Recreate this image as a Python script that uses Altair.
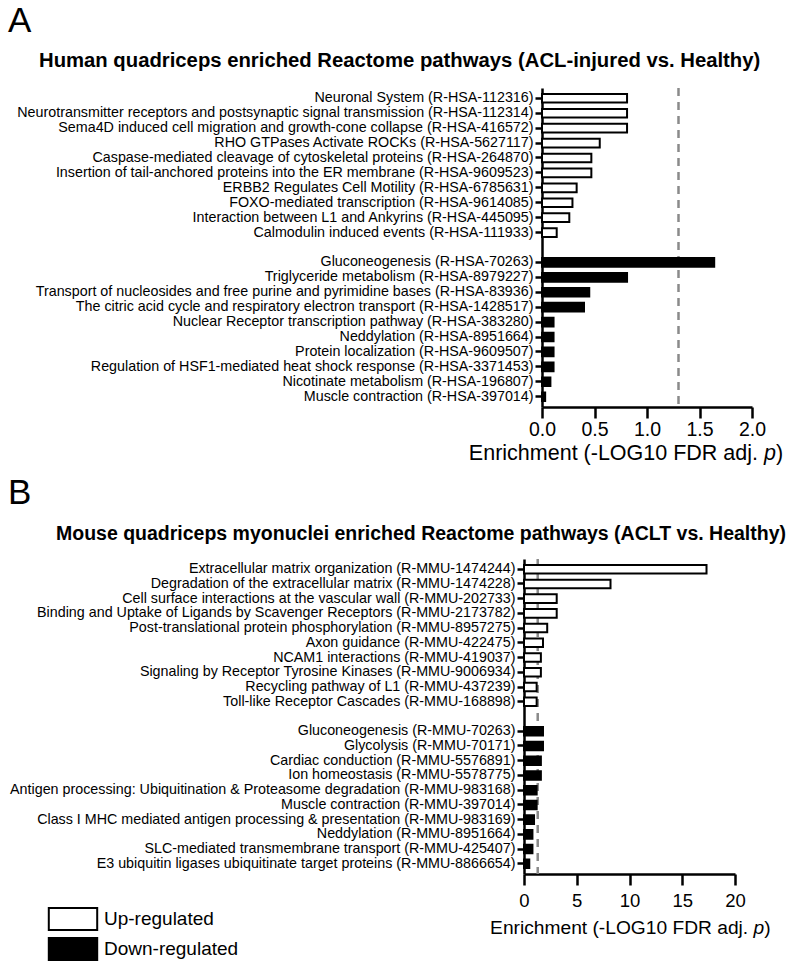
import altair as alt
import pandas as pd

FONT = "Liberation Sans, Arial, Helvetica, sans-serif"

# ---------------- Panel A data (human) ----------------
hs_up_labels = [
    "Neuronal System (R-HSA-112316)",
    "Neurotransmitter receptors and postsynaptic signal transmission (R-HSA-112314)",
    "Sema4D induced cell migration and growth-cone collapse (R-HSA-416572)",
    "RHO GTPases Activate ROCKs (R-HSA-5627117)",
    "Caspase-mediated cleavage of cytoskeletal proteins (R-HSA-264870)",
    "Insertion of tail-anchored proteins into the ER membrane (R-HSA-9609523)",
    "ERBB2 Regulates Cell Motility (R-HSA-6785631)",
    "FOXO-mediated transcription (R-HSA-9614085)",
    "Interaction between L1 and Ankyrins (R-HSA-445095)",
    "Calmodulin induced events (R-HSA-111933)",
]
hs_up_values = [0.81, 0.81, 0.81, 0.55, 0.47, 0.47, 0.33, 0.29, 0.26, 0.14]

hs_down_labels = [
    "Gluconeogenesis (R-HSA-70263)",
    "Triglyceride metabolism (R-HSA-8979227)",
    "Transport of nucleosides and free purine and pyrimidine bases (R-HSA-83936)",
    "The citric acid cycle and respiratory electron transport (R-HSA-1428517)",
    "Nuclear Receptor transcription pathway (R-HSA-383280)",
    "Neddylation (R-HSA-8951664)",
    "Protein localization (R-HSA-9609507)",
    "Regulation of HSF1-mediated heat shock response (R-HSA-3371453)",
    "Nicotinate metabolism (R-HSA-196807)",
    "Muscle contraction (R-HSA-397014)",
]
hs_down_values = [1.64, 0.81, 0.45, 0.40, 0.11, 0.11, 0.11, 0.11, 0.08, 0.03]

# ---------------- Panel B data (mouse) ----------------
mm_up_labels = [
    "Extracellular matrix organization (R-MMU-1474244)",
    "Degradation of the extracellular matrix (R-MMU-1474228)",
    "Cell surface interactions at the vascular wall (R-MMU-202733)",
    "Binding and Uptake of Ligands by Scavenger Receptors (R-MMU-2173782)",
    "Post-translational protein phosphorylation (R-MMU-8957275)",
    "Axon guidance (R-MMU-422475)",
    "NCAM1 interactions (R-MMU-419037)",
    "Signaling by Receptor Tyrosine Kinases (R-MMU-9006934)",
    "Recycling pathway of L1 (R-MMU-437239)",
    "Toll-like Receptor Cascades (R-MMU-168898)",
]
mm_up_values = [17.3, 8.2, 3.1, 3.1, 2.2, 1.8, 1.6, 1.6, 1.2, 1.2]

mm_down_labels = [
    "Gluconeogenesis (R-MMU-70263)",
    "Glycolysis (R-MMU-70171)",
    "Cardiac conduction (R-MMU-5576891)",
    "Ion homeostasis (R-MMU-5578775)",
    "Antigen processing: Ubiquitination & Proteasome degradation (R-MMU-983168)",
    "Muscle contraction (R-MMU-397014)",
    "Class I MHC mediated antigen processing & presentation (R-MMU-983169)",
    "Neddylation (R-MMU-8951664)",
    "SLC-mediated transmembrane transport (R-MMU-425407)",
    "E3 ubiquitin ligases ubiquitinate target proteins (R-MMU-8866654)",
]
mm_down_values = [1.8, 1.8, 1.6, 1.6, 1.2, 1.2, 0.95, 0.8, 0.8, 0.5]

directions = ["Up-regulated", "Down-regulated"]
threshold = [1.3]  # -log10(0.05)

title_a = "Human quadriceps enriched Reactome pathways (ACL-injured vs. Healthy)"
title_b = "Mouse quadriceps myonuclei enriched Reactome pathways (ACLT vs. Healthy)"
x_title_parts = ["Enrichment (-LOG10 FDR adj.", "p", ")"]

GAP = "__gap__"


def make_df(up_labels, up_vals, down_labels, down_vals):
    rows = [{"pathway": l, "value": v, "direction": directions[0]} for l, v in zip(up_labels, up_vals)]
    rows += [{"pathway": l, "value": v, "direction": directions[1]} for l, v in zip(down_labels, down_vals)]
    return pd.DataFrame(rows)


def text_layer(txt, x, y, size, align="left", weight="normal", style="normal"):
    return alt.Chart(pd.DataFrame({"t": [txt]})).mark_text(
        align=align, baseline="middle", fontSize=size, fontWeight=weight, fontStyle=style,
        font=FONT, color="black",
    ).encode(x=alt.value(x), y=alt.value(y), text="t:N")


def panel(df, order, xmax, xticks, fmt, width, height, xrange, yoffset, tick_fs, label_pad,
          letter, letter_xy, title, title_fs, title_xy, xt_fs, xt_xy, legend):
    xscale = alt.Scale(domain=[0, xmax], nice=False, zero=True, range=xrange)
    xaxis = alt.Axis(
        title=None, values=xticks, format=fmt, grid=False,
        domainColor="black", domainWidth=2.5, tickColor="black", tickWidth=2.5,
        tickSize=11, labelFontSize=tick_fs, labelColor="black", labelPadding=label_pad,
        labelFlush=False,
    )
    yaxis = alt.Axis(
        title=None, labelFontSize=14.3, labelColor="black", labelPadding=2, offset=yoffset,
        domainColor="black", domainWidth=2.5, tickColor="black", tickWidth=2.5, tickSize=7,
        tickOpacity={"condition": {"test": f"datum.value === '{GAP}'", "value": 0}, "value": 1},
        labelExpr=f"datum.value === '{GAP}' ? '' : datum.label", labelLimit=1000,
    )
    yscale = alt.Scale(domain=order, paddingInner=0.42, paddingOuter=0.4)

    rule = alt.Chart(pd.DataFrame({"threshold": threshold})).mark_rule(
        color="#8a8a8a", strokeWidth=2.5, strokeDash=[8, 6]
    ).encode(x=alt.X("threshold:Q", scale=xscale, axis=xaxis))

    bars = alt.Chart(df).mark_bar(stroke="black", strokeWidth=2).encode(
        x=alt.X("value:Q", scale=xscale, axis=xaxis),
        y=alt.Y("pathway:N", sort=order, scale=yscale, axis=yaxis),
        fill=alt.Fill("direction:N", scale=alt.Scale(domain=directions, range=["white", "black"]),
                      legend=legend),
    )

    xp, yp = xt_xy
    space = 0.278 * xt_fs
    layers = [
        rule, bars,
        text_layer(letter, letter_xy[0], letter_xy[1], 35),
        text_layer(title, title_xy[0], title_xy[1], title_fs, weight="bold"),
        text_layer(x_title_parts[0], xp - space, yp, xt_fs, align="right"),
        text_layer(x_title_parts[1], xp, yp, xt_fs, style="italic"),
        text_layer(x_title_parts[2], xp + 0.556 * xt_fs, yp, xt_fs),
    ]
    return alt.layer(*layers).properties(width=width, height=height)


order_a = hs_up_labels + [GAP] + hs_down_labels
order_b = mm_up_labels + [GAP] + mm_down_labels

chart_a = panel(
    make_df(hs_up_labels, hs_up_values, hs_down_labels, hs_down_values), order_a,
    2.0, [0, 0.5, 1.0, 1.5, 2.0], ".1f", 210, 319, [0, 210], 0, 19.5, 2,
    "A", (-534, -67), title_a, 20.3, (-503, -27), 21.5, (222, 365.5), None,
)

legend_b = alt.Legend(
    title=None, orient="none", legendX=-481, legendY=348, direction="vertical",
    symbolType="M-2.2,-1H2.2V1H-2.2Z", symbolSize=484, symbolStrokeColor="black",
    symbolStrokeWidth=2, labelFontSize=19, labelFont=FONT, labelColor="black",
    rowPadding=0, padding=0, labelOffset=19,
)

chart_b = panel(
    make_df(mm_up_labels, mm_up_values, mm_down_labels, mm_down_values), order_b,
    20, [0, 5, 10, 15, 20], "d", 193, 315, [-18, 193], 18, 18.5, 6,
    "B", (-534, -66), title_b, 19.5, (-486, -25), 19.2, (211.5, 368.5), legend_b,
)

chart = alt.vconcat(chart_a, chart_b, spacing=12).resolve_scale(fill="independent").properties(
    padding={"left": 8, "top": 4, "right": 0, "bottom": 0}
).configure(font=FONT).configure_view(stroke=None).configure_axis(
    labelFont=FONT, titleFont=FONT
)

chart.save("out.html", embed_options={"renderer": "svg", "actions": False})
